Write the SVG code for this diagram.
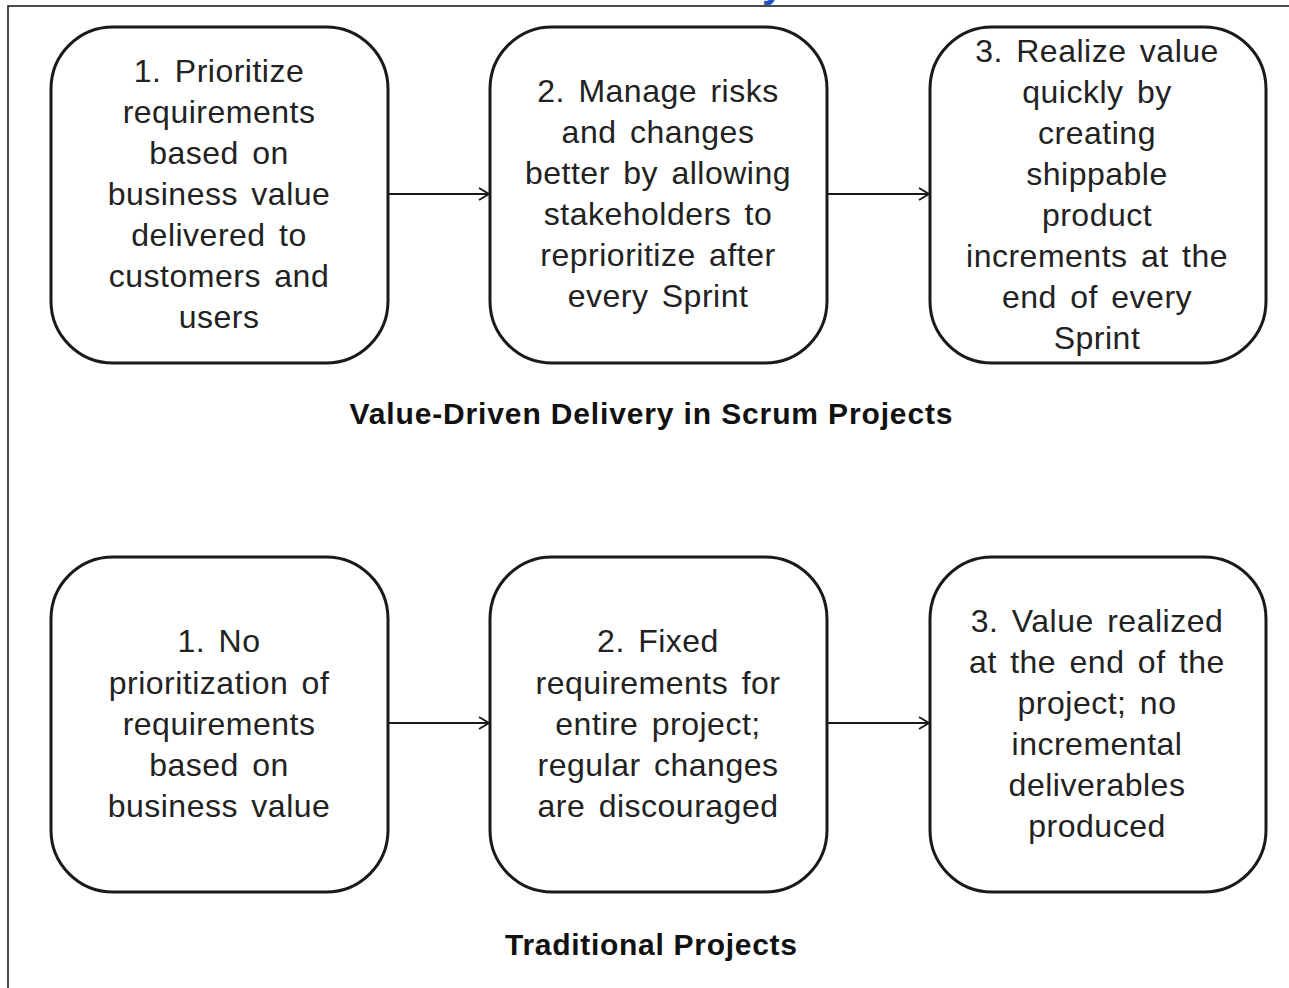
<svg xmlns="http://www.w3.org/2000/svg" width="1289" height="988" viewBox="0 0 1289 988">
<defs>
<style>
.box{fill:#fff;stroke:#1a1a1a;stroke-width:3}
.t{font-family:"Liberation Sans",Arial,sans-serif;font-size:32px;fill:#222;text-anchor:middle;letter-spacing:0.5px;word-spacing:4px}
.h{font-family:"Liberation Sans",Arial,sans-serif;font-size:30px;font-weight:bold;fill:#111;text-anchor:middle}
.c{stroke:#1a1a1a;stroke-width:2;fill:none}
</style>
<marker id="ar" viewBox="0 0 12 14" refX="11" refY="7" markerWidth="12" markerHeight="14" markerUnits="userSpaceOnUse" orient="auto">
<path d="M1,1 L11,7 L1,13" fill="none" stroke="#1a1a1a" stroke-width="2"/>
</marker>
</defs>
<rect width="1289" height="988" fill="#fff"/>
<path d="M8,988 V6 H1289" fill="none" stroke="#111" stroke-width="1.5"/>
<text x="773" y="-3" font-family="Liberation Sans,Arial,sans-serif" font-size="40" font-weight="bold" fill="#1f55c0" text-anchor="middle">y</text>
<g id="connectors">
<line class="c" x1="388" y1="194" x2="489" y2="194" marker-end="url(#ar)"/>
<line class="c" x1="827" y1="194" x2="929" y2="194" marker-end="url(#ar)"/>
<line class="c" x1="388" y1="723" x2="489" y2="723" marker-end="url(#ar)"/>
<line class="c" x1="827" y1="723" x2="929" y2="723" marker-end="url(#ar)"/>
</g>
<g id="s1">
<rect class="box" x="51" y="27" width="337" height="336" rx="62"/>
<text class="t"><tspan x="219" y="82">1. Prioritize</tspan><tspan x="219" y="123">requirements</tspan><tspan x="219" y="164">based on</tspan><tspan x="219" y="205">business value</tspan><tspan x="219" y="246">delivered to</tspan><tspan x="219" y="287">customers and</tspan><tspan x="219" y="328">users</tspan></text>
</g>
<g id="s2">
<rect class="box" x="490" y="27" width="337" height="336" rx="62"/>
<text class="t"><tspan x="658" y="102">2. Manage risks</tspan><tspan x="658" y="143">and changes</tspan><tspan x="658" y="184">better by allowing</tspan><tspan x="658" y="225">stakeholders to</tspan><tspan x="658" y="266">reprioritize after</tspan><tspan x="658" y="307">every Sprint</tspan></text>
</g>
<g id="s3">
<rect class="box" x="930" y="27" width="336" height="336" rx="62"/>
<text class="t"><tspan x="1097" y="62">3. Realize value</tspan><tspan x="1097" y="103">quickly by</tspan><tspan x="1097" y="144">creating</tspan><tspan x="1097" y="185">shippable</tspan><tspan x="1097" y="226">product</tspan><tspan x="1097" y="267">increments at the</tspan><tspan x="1097" y="308">end of every</tspan><tspan x="1097" y="349">Sprint</tspan></text>
</g>
<text class="h" x="651" y="424" textLength="603" lengthAdjust="spacing">Value-Driven Delivery in Scrum Projects</text>
<g id="t1">
<rect class="box" x="51" y="557" width="337" height="335" rx="62"/>
<text class="t"><tspan x="219" y="652">1. No</tspan><tspan x="219" y="694">prioritization of</tspan><tspan x="219" y="735">requirements</tspan><tspan x="219" y="776">based on</tspan><tspan x="219" y="817">business value</tspan></text>
</g>
<g id="t2">
<rect class="box" x="490" y="557" width="337" height="335" rx="62"/>
<text class="t"><tspan x="658" y="652">2. Fixed</tspan><tspan x="658" y="694">requirements for</tspan><tspan x="658" y="735">entire project;</tspan><tspan x="658" y="776">regular changes</tspan><tspan x="658" y="817">are discouraged</tspan></text>
</g>
<g id="t3">
<rect class="box" x="930" y="557" width="336" height="335" rx="62"/>
<text class="t"><tspan x="1097" y="632">3. Value realized</tspan><tspan x="1097" y="673">at the end of the</tspan><tspan x="1097" y="714">project; no</tspan><tspan x="1097" y="755">incremental</tspan><tspan x="1097" y="796">deliverables</tspan><tspan x="1097" y="837">produced</tspan></text>
</g>
<text class="h" x="651" y="955" textLength="292" lengthAdjust="spacing">Traditional Projects</text>
</svg>
